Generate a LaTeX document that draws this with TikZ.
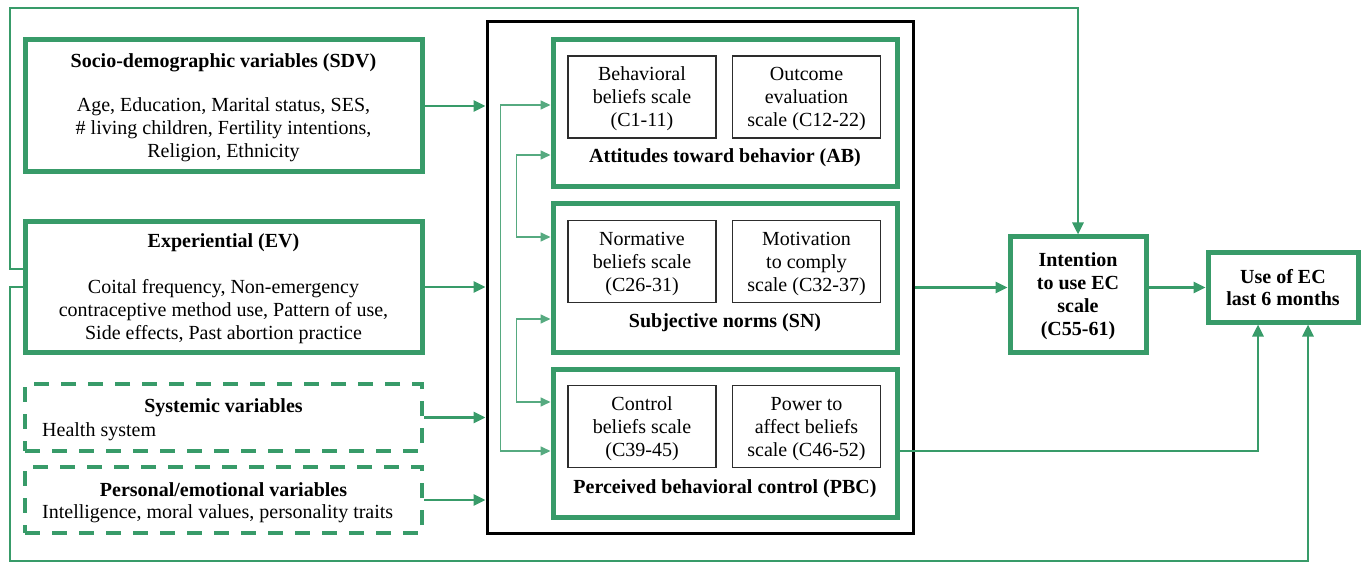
\documentclass[tikz,border=0pt]{standalone}
\usepackage{fontspec}
\setmainfont{Liberation Serif}
\usepackage{tikz}
\usetikzlibrary{arrows.meta,positioning}
\definecolor{tpbgreen}{RGB}{56,155,105}
\definecolor{subline}{RGB}{45,45,45}

\begin{document}
\begin{tikzpicture}[
  x=1pt,y=-1pt,
  font=\fontsize{20}{23}\selectfont,
  varbox/.style={draw=tpbgreen,line width=5pt,inner sep=0pt,text depth=0pt,align=center},
  dashbox/.style={draw=tpbgreen,line width=4pt,dash pattern=on 15pt off 12pt,inner sep=0pt},
  subbox/.style={draw=subline,line width=1.2pt,inner sep=0pt,text depth=0pt,minimum width=148pt,minimum height=82pt,align=center},
  grouplab/.style={font=\fontsize{20}{23}\selectfont\bfseries},
  arr/.style={draw=tpbgreen,line width=2.8pt,-{Triangle[length=12pt,width=11pt]}},
  biarr/.style={draw=tpbgreen!85,line width=1.6pt,{Triangle[length=10pt,width=9pt]}-{Triangle[length=10pt,width=9pt]}},
]
\useasboundingbox (0,0) rectangle (1366,564);
% left column: external variables
\node[varbox,minimum width=397pt,minimum height=132pt] (sdv) at (223.5,106)
  {\textbf{Socio-demographic variables (SDV)}\\[21pt]Age, Education, Marital status, SES,\\\# living children, Fertility intentions,\\Religion, Ethnicity};
\node[varbox,minimum width=397pt,minimum height=130pt] (ev) at (223.5,287)
  {\textbf{Experiential (EV)}\\[23pt]Coital frequency, Non-emergency\\contraceptive method use, Pattern of use,\\Side effects, Past abortion practice};
\node[dashbox,minimum width=397pt,minimum height=67pt] (sys) at (223.5,417.5) {};
\node[grouplab] (systitle) at (223.5,408) {Systemic variables};
\node[anchor=west,inner sep=0pt] (systext) at (42,432) {Health system};
\node[dashbox,minimum width=397pt,minimum height=66pt] (pers) at (223.5,500) {};
\node[grouplab] (perstitle) at (223.5,490) {Personal/emotional variables};
\node[anchor=west,inner sep=0pt] (perstext) at (42,514) {Intelligence, moral values, personality traits};

% theory of planned behaviour block
\node[draw,line width=3pt,minimum width=426pt,minimum height=511pt,inner sep=0pt] (tpb) at (700,277.5) {};
\node[varbox,minimum width=344pt,minimum height=147pt] (ab) at (725,113.5) {};
\node[subbox] (bb) at (642,97) {Behavioral\\beliefs scale\\(C1-11)};
\node[subbox] (oe) at (806.5,97) {Outcome\\evaluation\\scale (C12-22)};
\node[grouplab] (ablab) at (725,158) {Attitudes toward behavior (AB)};
\node[varbox,minimum width=344pt,minimum height=148pt] (sn) at (725,278) {};
\node[subbox] (nb) at (642,261.5) {Normative\\beliefs scale\\(C26-31)};
\node[subbox] (mc) at (806.5,261.5) {Motivation\\to comply\\scale (C32-37)};
\node[grouplab] (snlab) at (725,322.5) {Subjective norms (SN)};
\node[varbox,minimum width=344pt,minimum height=148pt] (pbc) at (725,443) {};
\node[subbox] (cb) at (642,426.5) {Control\\beliefs scale\\(C39-45)};
\node[subbox] (pa) at (806.5,426.5) {Power to\\affect beliefs\\scale (C46-52)};
\node[grouplab] (pbclab) at (725,488.5) {Perceived behavioral control (PBC)};

% outcomes
\node[varbox,minimum width=136pt,minimum height=115pt,font=\fontsize{20}{23}\selectfont\bfseries] (intent) at (1078,294.5)
  {Intention\\to use EC\\scale\\(C55-61)};
\node[varbox,minimum width=150pt,minimum height=69pt,font=\fontsize{20}{22}\selectfont\bfseries] (use) at (1283,287.5)
  {Use of EC\\last 6 months};

% inputs into the block
\draw[arr] (sdv.east) -- (tpb.west |- sdv.east);
\draw[arr] (ev.east) -- (tpb.west |- ev.east);
\draw[arr] (sys.east) -- (tpb.west |- sys.east);
\draw[arr] (pers.east) -- (tpb.west |- pers.east);
% correlations inside
\draw[biarr] ([yshift=8.5pt]ab.west) -- ++(-50,0) |- ([yshift=-8pt]pbc.west);
\draw[biarr] ([yshift=-41.5pt]ab.west) -- ++(-34,0) |- ([yshift=41pt]sn.west);
\draw[biarr] ([yshift=-41pt]sn.west) -- ++(-34,0) |- ([yshift=41pt]pbc.west);
% block -> intention -> use
\draw[arr] (tpb.east |- use.west) -- (intent.west |- use.west);
\draw[arr] (intent.east |- use.west) -- (use.west);
\draw[arr] ([yshift=-8pt]pbc.east) -| ([xshift=-25pt]use.south);
% frame lines from experiential
\coordinate (topleft) at (10,8);
\coordinate (botleft) at (10,561);
\draw[arr] ([yshift=18pt]ev.west) -| (topleft) -| (intent.north);
\draw[arr] (ev.west) -| (botleft) -| ([xshift=25pt]use.south);
\end{tikzpicture}
\end{document}
